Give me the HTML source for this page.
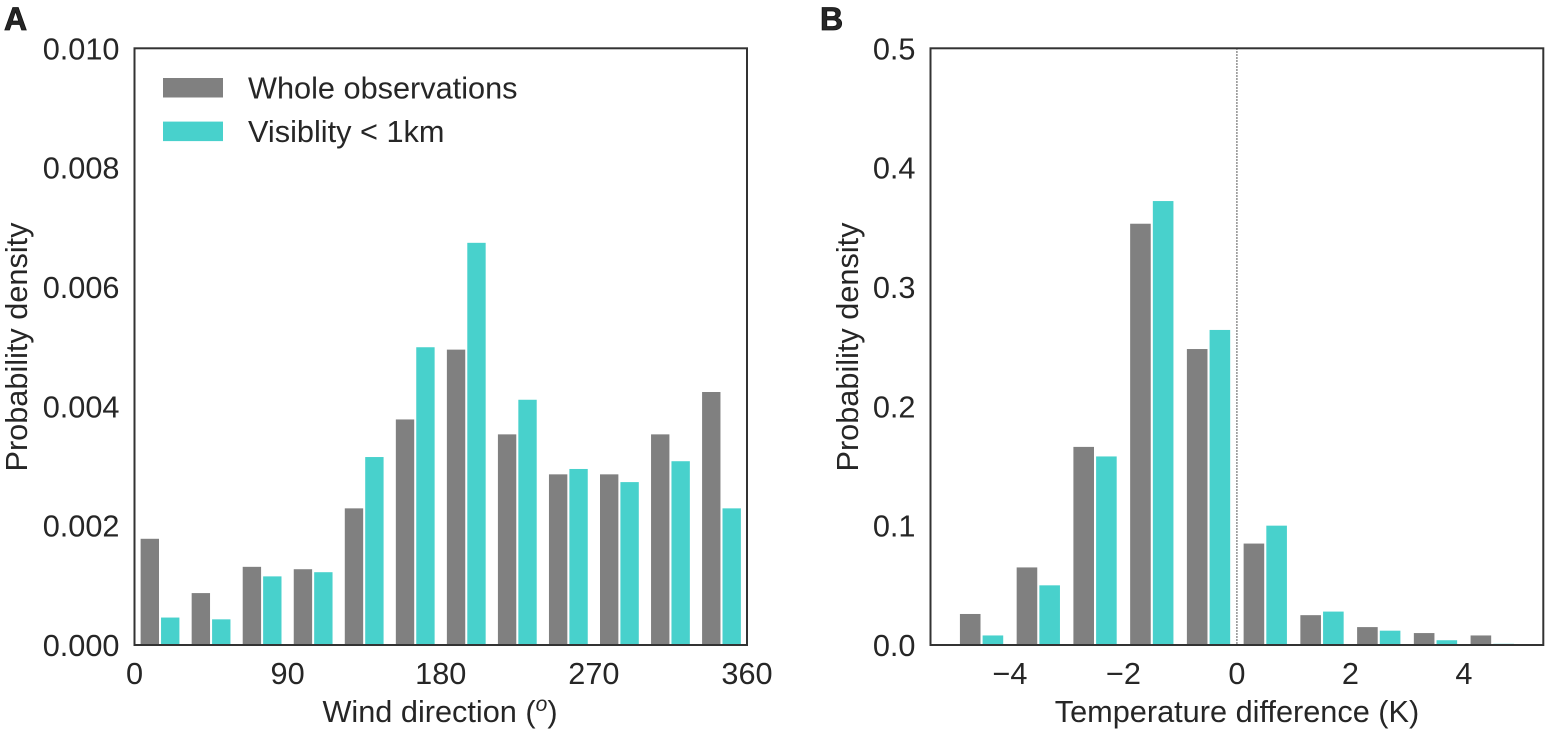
<!DOCTYPE html>
<html lang="en">
<head>
<meta charset="utf-8">
<title>Wind direction and temperature difference histograms</title>
<style>
html,body{margin:0;padding:0;background:#fff;}
svg{display:block;}
text{font-family:"Liberation Sans",Arial,sans-serif;fill:#262626;}
</style>
</head>
<body>
<svg id="figure" width="1550" height="732" viewBox="0 0 1550 732" xmlns="http://www.w3.org/2000/svg"></svg>
<script>
var windBinCenters = [15, 45, 75, 105, 135, 165, 195, 225, 255, 285, 315, 345];
var windWhole = [0.00178, 0.00087, 0.00131, 0.00127, 0.00229, 0.00378, 0.00495, 0.00353, 0.00286, 0.00286, 0.00353, 0.00424];
var windLowVis = [0.00046, 0.00043, 0.00115, 0.00122, 0.00315, 0.00499, 0.00674, 0.00411, 0.00295, 0.00273, 0.00308, 0.00229];
var windXTicks = [0, 90, 180, 270, 360];
var windYTicks = ["0.000", "0.002", "0.004", "0.006", "0.008", "0.010"];

var tempBinCenters = [-4.5, -3.5, -2.5, -1.5, -0.5, 0.5, 1.5, 2.5, 3.5, 4.5];
var tempWhole = [0.026, 0.065, 0.166, 0.353, 0.248, 0.085, 0.025, 0.015, 0.010, 0.008];
var tempLowVis = [0.008, 0.050, 0.158, 0.372, 0.264, 0.100, 0.028, 0.012, 0.004, 0.001];
var tempXTicks = [-4, -2, 0, 2, 4];
var tempYTicks = ["0.0", "0.1", "0.2", "0.3", "0.4", "0.5"];

var legendLabels = ["Whole observations", "Visiblity < 1km"];

var NS = "http://www.w3.org/2000/svg";
var svg = document.getElementById("figure");
var GRAY = "#808080";
var TEAL = "#48d1cc";
var FONT = 30.7;

function make(tag, attrs, parent) {
  var el = document.createElementNS(NS, tag);
  for (var k in attrs) { el.setAttribute(k, attrs[k]); }
  (parent || svg).appendChild(el);
  return el;
}

function drawPanel(p) {
  var left = p.left, right = p.right, top = 48.3, bottom = 645;
  var x = function (v) { return left + (v - p.xMin) / (p.xMax - p.xMin) * (right - left); };
  var y = function (v) { return bottom - v / p.yMax * (bottom - top); };

  var group = make("g", {});
  
  

  p.centers.forEach(function (c, i) {
    var barA = make("rect", {
      x: x(c - p.offset - p.barWidth / 2),
      y: y(p.whole[i]),
      width: x(p.barWidth) - x(0),
      height: bottom - y(p.whole[i]),
      fill: GRAY
    }, group);
    
    

    var barB = make("rect", {
      x: x(c + p.offset - p.barWidth / 2),
      y: y(p.low[i]),
      width: x(p.barWidth) - x(0),
      height: bottom - y(p.low[i]),
      fill: TEAL
    }, group);
    
    
  });

  if (p.vline !== undefined) {
    var vl = make("line", {
      x1: x(p.vline), x2: x(p.vline), y1: top, y2: bottom,
      stroke: "#555", "stroke-width": 1.3, "stroke-dasharray": "1.5 1.5"
    }, group);
    
    
  }

  var frame = make("rect", {
    x: left, y: top, width: right - left, height: bottom - top,
    fill: "none", stroke: "#333", "stroke-width": 2
  }, group);
  
  

  p.xTicks.forEach(function (t) {
    var tx = make("text", {
      x: x(t), y: 684, "text-anchor": "middle", "font-size": FONT
    }, group);
    tx.textContent = String(t).replace("-", "\u2212");
    
    
  });

  p.yTicks.forEach(function (t) {
    var ty = make("text", {
      x: left - 15, y: y(parseFloat(t)) + 11, "text-anchor": "end", "font-size": FONT
    }, group);
    ty.textContent = t;
    
    
  });

  var yTitle = make("text", {
    transform: "translate(" + p.yTitleX + ",347) rotate(-90)",
    "text-anchor": "middle", "font-size": FONT
  }, group);
  yTitle.textContent = "Probability density";
  
  

  var letter = make("text", {
    x: p.letterX, y: 30, "font-size": 32, "font-weight": "bold",
    stroke: "#111", "stroke-width": 0.8
  }, group);
  letter.textContent = p.letter;
  
  

  return group;
}

drawPanel({
  name: "wind-direction-panel", letter: "A", letterX: 4, yTitleX: 27,
  left: 134.5, right: 747, xMin: 0, xMax: 360, yMax: 0.010,
  centers: windBinCenters, whole: windWhole, low: windLowVis,
  offset: 6, barWidth: 10.8, xTicks: windXTicks, yTicks: windYTicks
});

drawPanel({
  name: "temperature-difference-panel", letter: "B", letterX: 820, yTitleX: 858,
  left: 930.5, right: 1543.3, xMin: -5.4, xMax: 5.4, yMax: 0.5,
  centers: tempBinCenters, whole: tempWhole, low: tempLowVis,
  offset: 0.2, barWidth: 0.363, xTicks: tempXTicks, yTicks: tempYTicks, vline: 0
});

var xTitleA = make("text", { x: 440, y: 722, "text-anchor": "middle", "font-size": FONT });


xTitleA.appendChild(document.createTextNode("Wind direction ("));
var sup = make("tspan", { dy: -11, "font-size": 21, "font-style": "italic" }, xTitleA);
sup.textContent = "o";
var close = make("tspan", { dy: 11 }, xTitleA);
close.textContent = ")";

var xTitleB = make("text", { x: 1237, y: 722, "text-anchor": "middle", "font-size": FONT });
xTitleB.textContent = "Temperature difference (K)";



legendLabels.forEach(function (label, i) {
  var rowY = 78 + i * 43.6;
  var swatch = make("rect", { x: 163, y: rowY, width: 60, height: 19.5, fill: i === 0 ? GRAY : TEAL });
  
  
  var lt = make("text", { x: 248, y: rowY + 20.5, "font-size": FONT });
  lt.textContent = label;
  
  
});
</script>
</body>
</html>
